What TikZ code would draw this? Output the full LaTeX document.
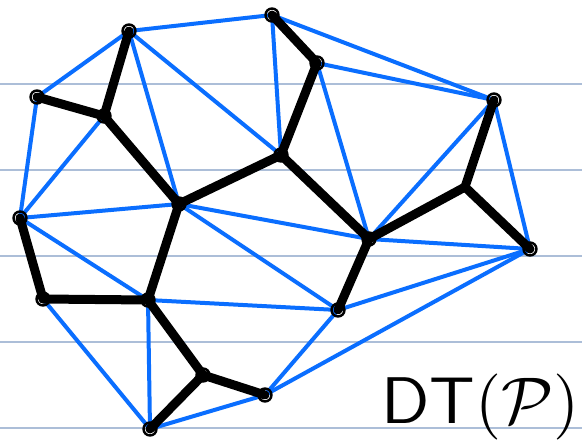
\documentclass[tikz,border=0pt]{standalone}
\usepackage{amsmath}
\definecolor{dtblue}{RGB}{10,110,255}
\definecolor{rulecol}{RGB}{172,190,216}
\begin{document}
\begin{tikzpicture}[x=1pt,y=-1pt,
  rule/.style={draw=rulecol,line width=1.4pt},
  dtedge/.style={draw=dtblue,line width=4pt,line cap=round},
  vedge/.style={draw=black,line width=9pt,line cap=round,line join=round},
  vmark/.style={circle,draw=black,line width=2.4pt,inner sep=0pt,minimum size=13pt}]
\useasboundingbox (0,0) rectangle (582,440);
\fill[white] (0,0) rectangle (582,440);
\foreach \yy [count=\i] in {84,170,256,342,428} \draw[rule] (0,\yy) coordinate (ra\i) -- (582,\yy) coordinate (rb\i);
% points
\coordinate (A) at (129,31);
\coordinate (B) at (272,15);
\coordinate (C) at (317,63);
\coordinate (D) at (494,100);
\coordinate (E) at (37,97);
\coordinate (F) at (104,116);
\coordinate (G) at (179,204);
\coordinate (H) at (281,155);
\coordinate (I) at (369,239);
\coordinate (J) at (465,187);
\coordinate (K) at (530,249);
\coordinate (L) at (20,218);
\coordinate (M) at (43,299);
\coordinate (N) at (148,300);
\coordinate (O) at (203,375);
\coordinate (P) at (265,395);
\coordinate (Q) at (150,429);
\coordinate (R) at (338,310);
% Delaunay edges
\foreach \a/\b in {A/B,A/E,A/G,A/H,B/C,B/D,B/H,C/D,C/H,C/I,D/I,D/K,E/L,F/L,L/G,L/N,G/I,G/R,N/R,N/Q,M/Q,Q/P,P/R,P/K,R/K,I/K}
  \draw[dtedge] (\a) -- (\b);
% thick edges
\foreach \a/\b in {A/F,E/F,F/G,G/H,H/C,C/B,G/N,L/M,M/N,N/O,O/Q,O/P,H/I,I/R,I/J,J/D,J/K}
  \draw[vedge] (\a) -- (\b);
% vertex marks
\foreach \p in {A,B,C,D,E,F,G,H,I,K,L,M,N,O,P,Q,R}
  \node[vmark] (m\p) at (\p) {};
% label
\node[anchor=base west,inner sep=0pt,xscale=6.7,yscale=6.6] (lbl) at (380,423) {$\mathsf{DT}(\mathcal{P})$};
\end{tikzpicture}
\end{document}
